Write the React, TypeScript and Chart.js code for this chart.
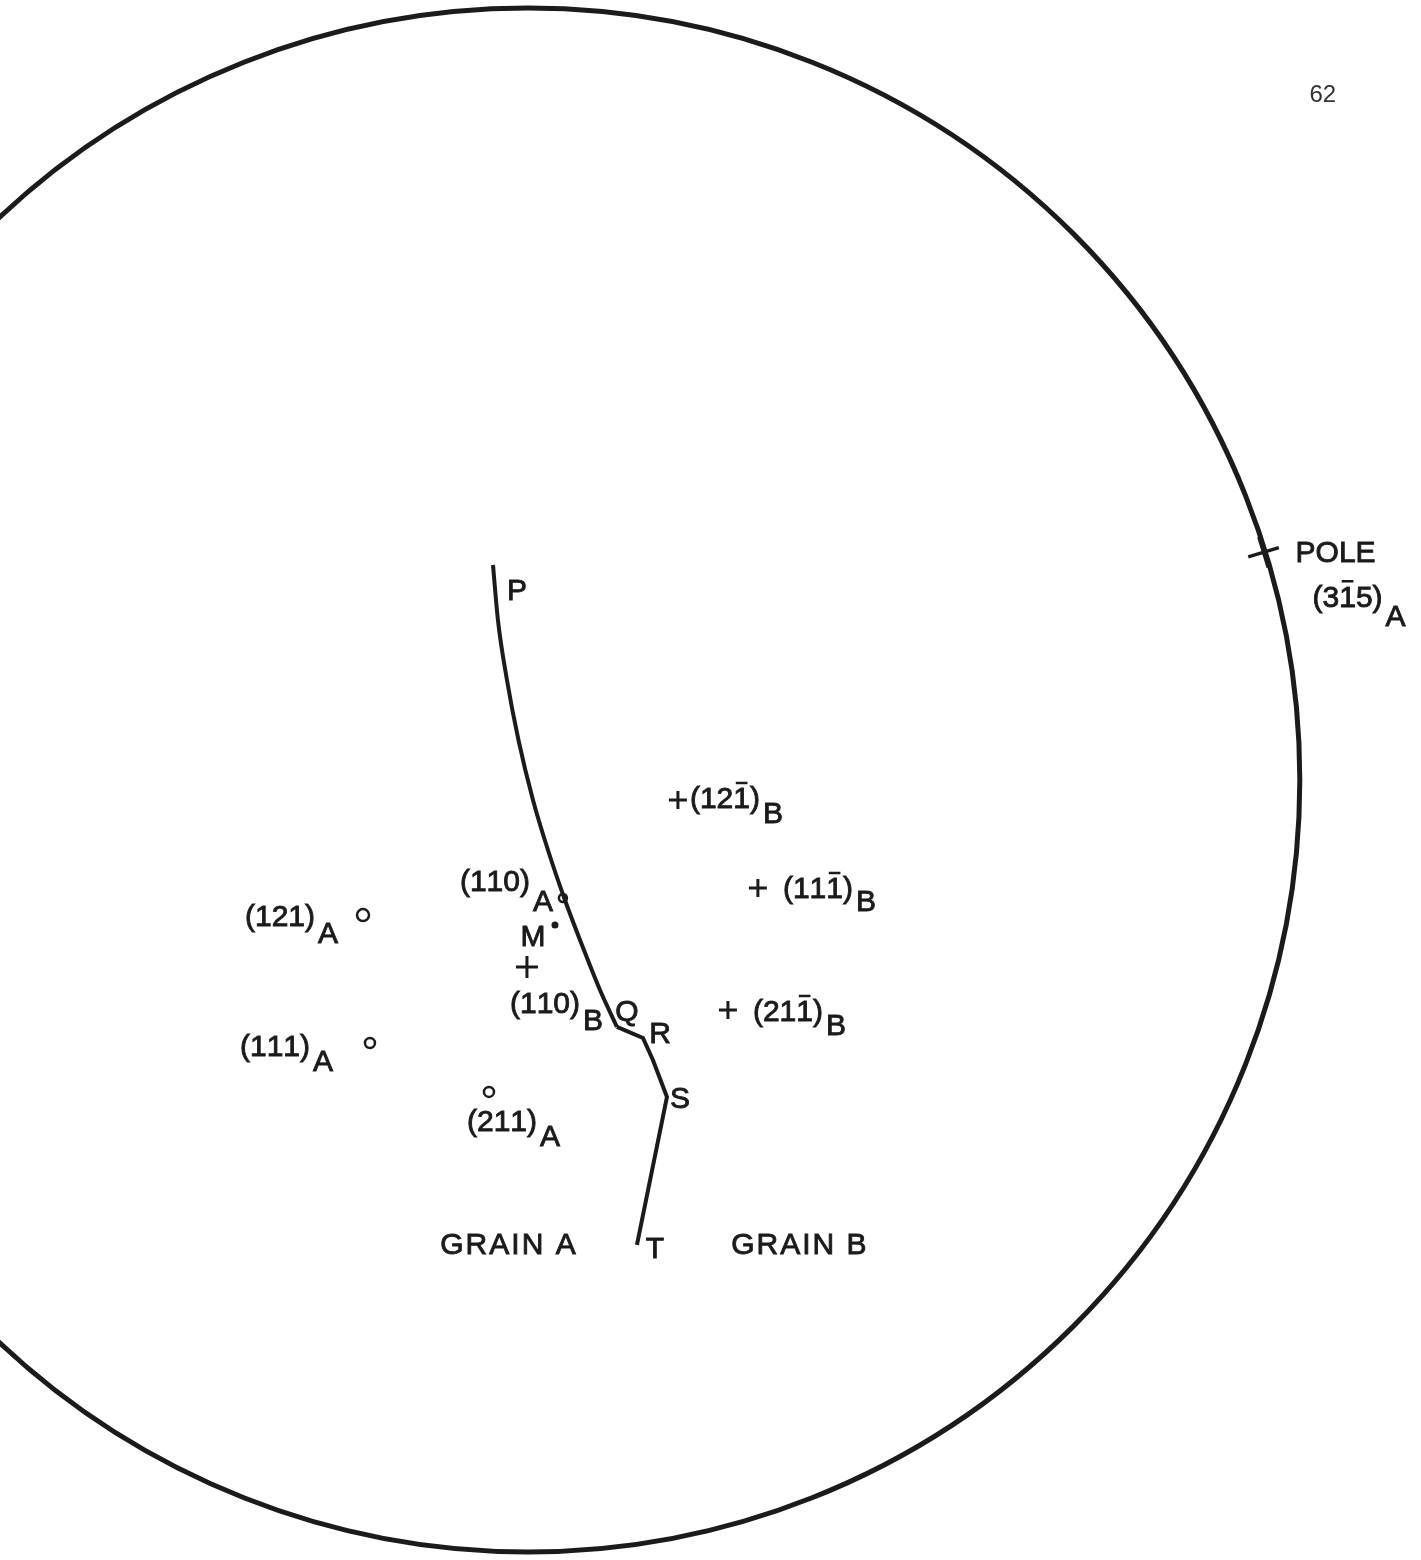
import { useEffect, useRef } from "react";
import { Chart, registerables } from "chart.js";

Chart.register(...registerables);

const W = 1421;
const H = 1560;
const INK = "#1b1b1b";
const FONT = '"Liberation Sans", Arial, sans-serif';

// Stereographic projection: primitive circle has unit radius, centred on the origin.
const X_RANGE = [-0.684, 1.157];
const Y_RANGE = [-1.0104, 1.0104];
const primitiveRadius = 1;

// Poles of grain A (open circles)
const poleLabelsA = ["(121)", "(111)", "(110)", "(211)"];
const poleUA = [-0.2137, -0.2047, 0.0453, -0.0505];
const poleVA = [-0.1749, -0.3407, -0.1528, -0.4041];

// Poles of grain B (crosses)
const poleLabelsB = ["(121\u0305)", "(111\u0305)", "(211\u0305)", "(110)"];
const poleUB = [0.1943, 0.2979, 0.2591, -0.0013];
const poleVB = [-0.0259, -0.1399, -0.2979, -0.2422];

// Point M (dot)
const pointM = { name: "M", u: 0.035, v: -0.1878 };

// Specimen surface pole on the primitive
const surfacePole = { name: "POLE", index: "(31\u03055)", grain: "A", u: 0.953, v: 0.295 };

// Trace of the grain boundary P-Q-R-S-T
const boundaryU = [-0.0453, -0.0389, -0.0272, -0.0123, 0.0065, 0.0259, 0.0479, 0.0725, 0.0933, 0.1153, 0.149, 0.1619, 0.1801, 0.1412];
const boundaryV = [0.2785, 0.2073, 0.1295, 0.0518, -0.0259, -0.0907, -0.1554, -0.2202, -0.272, -0.3199, -0.3342, -0.3627, -0.4106, -0.6023];
const boundaryNames = ["P", "", "", "", "", "", "", "", "", "Q", "R", "", "S", "T"];
const CURVE_END = 9; // smooth arc from P down to Q, straight segments after

// Free captions
const captionTexts = ["GRAIN A", "GRAIN B"];
const captionU = [-0.0246, 0.3523];
const captionV = [-0.6036, -0.6036];
const pageNumber = { text: "62", u: 1.0298, v: 0.8873 };

// Label placement (pixel offsets of text left edge / vertical centre from the mark)
const offsetsA = [[-118, 3], [-130, 5], [-103, -15], [-22, 31]];
const subDropA = [17, 15, 20, 15];
const offsetsB = [[12, 0], [25, 2], [25, 3], [-17, 38]];
const subDropB = [15, 13, 14, 17];
const boundaryLabelOffsets: Record<string, [number, number]> = {
  P: [24, 27],
  Q: [10, -14],
  R: [17, -3],
  S: [13, 3],
  T: [18, 5],
};

const pts = (us: number[], vs: number[]) => us.map((u, i) => ({ x: u, y: vs[i] }));

// Lettering: fill plus a thin outline for the heavier pen stroke.
function put(ctx: CanvasRenderingContext2D, text: string, x: number, y: number) {
  ctx.lineWidth = 0.9;
  ctx.fillText(text, x, y);
  ctx.strokeText(text, x, y);
}

// Draws text, putting a bar over any character followed by U+0305; returns width.
function drawIndexText(ctx: CanvasRenderingContext2D, text: string, x: number, y: number) {
  let cx = x;
  const chars = Array.from(text);
  for (let i = 0; i < chars.length; i++) {
    const c = chars[i];
    if (c === "\u0305") continue;
    const w = ctx.measureText(c).width;
    put(ctx, c, cx, y);
    if (chars[i + 1] === "\u0305") {
      ctx.beginPath();
      ctx.lineWidth = 2.5;
      ctx.moveTo(cx + w * 0.15, y - 17);
      ctx.lineTo(cx + w * 0.85, y - 17);
      ctx.stroke();
    }
    cx += w;
  }
  return cx - x;
}

const primitivePlugin = {
  id: "primitiveCircle",
  beforeDatasetsDraw(chart: any) {
    const { ctx, scales } = chart;
    const cx = scales.x.getPixelForValue(0);
    const cy = scales.y.getPixelForValue(0);
    const rx = scales.x.getPixelForValue(primitiveRadius) - cx;
    const ry = cy - scales.y.getPixelForValue(primitiveRadius);
    ctx.save();
    ctx.strokeStyle = INK;
    ctx.lineWidth = 5;
    ctx.beginPath();
    ctx.ellipse(cx, cy, rx, ry, 0, 0, Math.PI * 2);
    ctx.stroke();
    ctx.restore();
  },
};

const labelPlugin = {
  id: "projectionLabels",
  afterDatasetsDraw(chart: any) {
    const { ctx, scales } = chart;
    const px = (u: number) => scales.x.getPixelForValue(u);
    const py = (v: number) => scales.y.getPixelForValue(v);
    ctx.save();
    ctx.fillStyle = INK;
    ctx.strokeStyle = INK;
    ctx.textBaseline = "middle";
    ctx.textAlign = "left";
    ctx.font = `30px ${FONT}`;

    const poleLabel = (text: string, sub: string, x: number, y: number, drop: number) => {
      const w = drawIndexText(ctx, text, x, y);
      put(ctx, sub, x + w + 3, y + drop);
    };

    poleLabelsA.forEach((t, i) => {
      const [dx, dy] = offsetsA[i];
      poleLabel(t, "A", px(poleUA[i]) + dx, py(poleVA[i]) + dy, subDropA[i]);
    });
    poleLabelsB.forEach((t, i) => {
      const [dx, dy] = offsetsB[i];
      poleLabel(t, "B", px(poleUB[i]) + dx, py(poleVB[i]) + dy, subDropB[i]);
    });

    // surface pole caption
    const sx = px(surfacePole.u);
    const sy = py(surfacePole.v);
    put(ctx, surfacePole.name, sx + 32, sy + 1);
    poleLabel(surfacePole.index, surfacePole.grain, sx + 49, sy + 46, 19);

    // M
    ctx.textAlign = "center";
    put(ctx, pointM.name, px(pointM.u) - 22, py(pointM.v) + 13);

    // boundary letters
    boundaryNames.forEach((n, i) => {
      if (!n) return;
      const [dx, dy] = boundaryLabelOffsets[n];
      put(ctx, n, px(boundaryU[i]) + dx, py(boundaryV[i]) + dy);
    });

    // grain captions
    (ctx as any).letterSpacing = "2px";
    captionTexts.forEach((t, i) => {
      put(ctx, t, px(captionU[i]), py(captionV[i]));
    });
    (ctx as any).letterSpacing = "0px";

    // page number
    ctx.fillStyle = "#333333";
    ctx.font = `24px ${FONT}`;
    ctx.fillText(pageNumber.text, px(pageNumber.u), py(pageNumber.v));
    ctx.restore();
  },
};

export default function App() {
  const canvasRef = useRef<HTMLCanvasElement | null>(null);

  useEffect(() => {
    document.body.style.margin = "0";
    const canvas = canvasRef.current;
    if (!canvas) return;
    const boundary = pts(boundaryU, boundaryV);
    const chart = new Chart(canvas, {
      type: "scatter",
      data: {
        datasets: [
          {
            label: "boundary arc",
            data: boundary.slice(0, CURVE_END + 1),
            showLine: true,
            borderColor: INK,
            borderWidth: 4,
            pointRadius: 0,
            tension: 0.4,
            cubicInterpolationMode: "monotone",
          },
          {
            label: "boundary segments",
            data: boundary.slice(CURVE_END),
            showLine: true,
            borderColor: INK,
            borderWidth: 4,
            pointRadius: 0,
            tension: 0,
          },
          {
            label: "grain A poles",
            data: pts(poleUA, poleVA),
            pointStyle: "circle",
            pointRadius: [6, 5, 4, 5],
            borderWidth: 2.5,
            borderColor: INK,
            backgroundColor: "#ffffff",
          },
          {
            label: "grain B poles",
            data: pts(poleUB, poleVB),
            pointStyle: "cross",
            pointRadius: [9, 9, 9, 11],
            borderWidth: 3,
            borderColor: INK,
          },
          {
            label: "M",
            data: [{ x: pointM.u, y: pointM.v }],
            pointStyle: "circle",
            pointRadius: 3.5,
            borderWidth: 0,
            backgroundColor: INK,
          },
          {
            label: "surface pole",
            data: [{ x: surfacePole.u, y: surfacePole.v }],
            pointStyle: "cross",
            pointRadius: 16,
            rotation: -17,
            borderWidth: 3.5,
            borderColor: INK,
          },
        ],
      },
      options: {
        responsive: false,
        maintainAspectRatio: false,
        devicePixelRatio: 1,
        animation: false,
        events: [],
        layout: { padding: 0, autoPadding: false },
        plugins: { legend: { display: false }, tooltip: { enabled: false } },
        scales: {
          x: { type: "linear", min: X_RANGE[0], max: X_RANGE[1], display: false },
          y: { type: "linear", min: Y_RANGE[0], max: Y_RANGE[1], display: false },
        },
      },
      plugins: [primitivePlugin, labelPlugin],
    });
    return () => chart.destroy();
  }, []);

  return (
    <div style={{ width: W, height: H, background: "#ffffff" }}>
      <canvas ref={canvasRef} width={W} height={H} style={{ display: "block" }} />
    </div>
  );
}
